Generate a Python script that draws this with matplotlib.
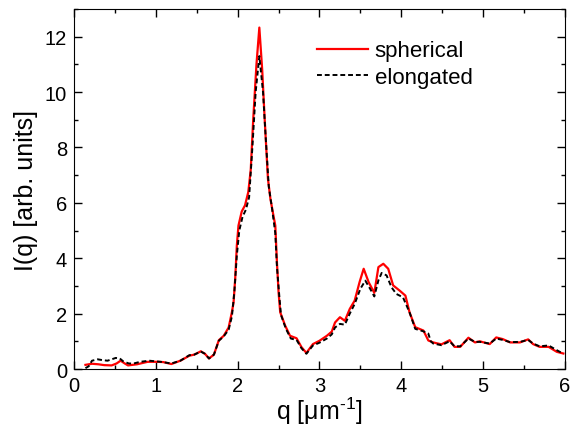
import matplotlib.pyplot as plt
from matplotlib.ticker import MultipleLocator

plt.rcParams['font.family'] = ['Liberation Sans', 'DejaVu Sans']
plt.rcParams['mathtext.fontset'] = 'custom'
plt.rcParams['mathtext.rm'] = 'Liberation Sans'
plt.rcParams['mathtext.it'] = 'Liberation Sans'

# spherical particles (red, solid)
q_sph = [0.14, 0.22, 0.30, 0.37, 0.46, 0.52, 0.57, 0.62, 0.66, 0.77,
         0.90, 1.02, 1.09, 1.19, 1.30, 1.41, 1.47, 1.55, 1.60, 1.65,
         1.71, 1.77, 1.83, 1.89, 1.93, 1.95, 1.97, 1.99, 2.01, 2.05,
         2.09, 2.13, 2.16, 2.19, 2.23, 2.265, 2.30, 2.33, 2.37, 2.40,
         2.44, 2.46, 2.48, 2.50, 2.52, 2.58, 2.64, 2.72, 2.78, 2.84,
         2.92, 3.00, 3.09, 3.15, 3.19, 3.25, 3.31, 3.37, 3.43, 3.49,
         3.54, 3.60, 3.67, 3.72, 3.78, 3.84, 3.90, 3.98, 4.05, 4.10,
         4.17, 4.27, 4.33, 4.39, 4.49, 4.59, 4.65, 4.72, 4.82, 4.90,
         4.96, 5.08, 5.16, 5.24, 5.33, 5.45, 5.55, 5.61, 5.69, 5.80,
         5.90, 5.98]
I_sph = [0.15, 0.19, 0.17, 0.14, 0.13, 0.20, 0.30, 0.20, 0.13, 0.17,
         0.26, 0.26, 0.25, 0.18, 0.30, 0.48, 0.52, 0.64, 0.55, 0.38,
         0.52, 1.04, 1.20, 1.50, 2.06, 2.40, 3.26, 4.46, 5.18, 5.69,
         5.91, 6.39, 7.20, 9.00, 11.0, 12.33, 10.8, 9.04, 6.87, 6.15,
         5.50, 5.18, 3.86, 2.77, 2.05, 1.57, 1.20, 1.11, 0.79, 0.58,
         0.90, 1.02, 1.20, 1.35, 1.68, 1.87, 1.74, 2.17, 2.47, 3.14,
         3.62, 3.14, 2.75, 3.68, 3.80, 3.62, 3.02, 2.83, 2.65, 2.05,
         1.51, 1.39, 1.03, 0.96, 0.89, 1.04, 0.80, 0.80, 1.13, 0.96,
         1.00, 0.90, 1.14, 1.08, 0.96, 0.96, 1.07, 0.90, 0.80, 0.80,
         0.62, 0.56]

# elongated particles (black, dashed)
q_elo = [0.14, 0.18, 0.22, 0.29, 0.35, 0.41, 0.51, 0.56, 0.60, 0.67,
         0.73, 0.81, 0.92, 1.06, 1.19, 1.30, 1.41, 1.47, 1.55, 1.60,
         1.65, 1.71, 1.77, 1.83, 1.89, 1.93, 1.96, 1.99, 2.02, 2.06,
         2.10, 2.14, 2.18, 2.22, 2.265, 2.31, 2.34, 2.38, 2.42, 2.46,
         2.48, 2.51, 2.53, 2.59, 2.65, 2.72, 2.78, 2.84, 2.92, 3.00,
         3.09, 3.15, 3.19, 3.25, 3.31, 3.37, 3.43, 3.50, 3.56, 3.62,
         3.67, 3.72, 3.76, 3.82, 3.88, 3.94, 4.02, 4.10, 4.17, 4.27,
         4.33, 4.36, 4.39, 4.49, 4.59, 4.65, 4.72, 4.82, 4.90, 4.96,
         5.08, 5.16, 5.24, 5.33, 5.45, 5.55, 5.61, 5.69, 5.80, 5.90,
         5.98]
I_elo = [0.03, 0.10, 0.30, 0.35, 0.32, 0.30, 0.40, 0.38, 0.28, 0.20,
         0.20, 0.26, 0.30, 0.26, 0.20, 0.30, 0.50, 0.52, 0.63, 0.55,
         0.38, 0.52, 1.02, 1.18, 1.42, 1.90, 2.80, 4.10, 5.00, 5.50,
         5.75, 6.20, 8.00, 10.0, 11.3, 10.0, 8.50, 6.60, 5.80, 4.90,
         3.70, 2.60, 1.95, 1.45, 1.10, 1.05, 0.75, 0.55, 0.85, 0.95,
         1.10, 1.25, 1.50, 1.63, 1.60, 2.00, 2.35, 2.90, 3.19, 2.89,
         2.62, 3.20, 3.47, 3.38, 2.95, 2.71, 2.59, 2.05, 1.45, 1.36,
         1.28, 1.00, 0.92, 0.86, 1.00, 0.82, 0.82, 1.10, 0.98, 0.98,
         0.92, 1.10, 1.05, 0.97, 0.98, 1.05, 0.92, 0.82, 0.85, 0.68,
         0.55]

fig = plt.figure(figsize=(5.7, 4.35), dpi=100)
ax = fig.add_axes([0.1298, 0.1494, 0.8614, 0.8276])

ax.plot(q_sph, I_sph, color='red', linewidth=1.6, label='spherical')
ax.plot(q_elo, I_elo, color='black', linewidth=1.4, linestyle=(0, (2.5, 1.5)),
        label='elongated')

ax.set_xlim(0, 6)
ax.set_ylim(0, 13)
ax.xaxis.set_major_locator(MultipleLocator(1))
ax.xaxis.set_minor_locator(MultipleLocator(0.5))
ax.yaxis.set_major_locator(MultipleLocator(2))
ax.yaxis.set_minor_locator(MultipleLocator(1))
ax.tick_params(which='both', direction='in', top=True, right=True,
               labelsize=14.5, width=1)
ax.tick_params(which='major', length=6, pad=5)
ax.tick_params(which='minor', length=3)

ax.set_xlabel(r'q [$\mu$m$^{\text{-}1}$]', fontsize=18, labelpad=0)
ax.set_ylabel('I(q) [arb. units]', fontsize=18, labelpad=5)

# legend anchored in axes fractions
ax.legend(loc='upper left', bbox_to_anchor=(0.495, 0.913),
          frameon=False, fontsize=16, borderpad=0, borderaxespad=0,
          handlelength=2.3, handletextpad=0.3, labelspacing=0.25)

fig.savefig('out.png', dpi=100)
